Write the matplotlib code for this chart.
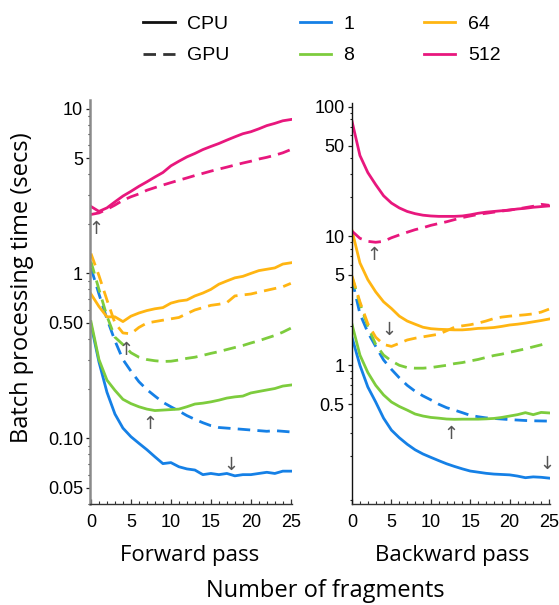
#!/usr/bin/env python3
"""
plot.py

Batch processing time vs number of fragments, forward and backward pass,
CPU (solid) and GPU (dashed) for batch sizes 1, 8, 64, 512.
"""

import matplotlib
matplotlib.use('Agg')
import matplotlib.pyplot as plt
from matplotlib.lines import Line2D
from matplotlib.ticker import FixedLocator, LogLocator, NullFormatter

fragments = list(range(26))
batch_sizes = ['1', '8', '64', '512']
colors = ['#1580e6', '#7dcc3d', '#ffb512', '#e8177d']

# forward pass (secs)
fwd_cpu = {
    '1': [0.49, 0.29, 0.19, 0.14, 0.115, 0.102, 0.093, 0.085, 0.077, 0.070,
          0.071, 0.067, 0.065, 0.064, 0.060, 0.061, 0.060, 0.061, 0.059, 0.060,
          0.060, 0.061, 0.062, 0.061, 0.063, 0.063],
    '8': [0.51, 0.30, 0.225, 0.195, 0.172, 0.162, 0.155, 0.150, 0.147, 0.148,
          0.149, 0.150, 0.155, 0.161, 0.163, 0.166, 0.170, 0.175, 0.178, 0.180,
          0.188, 0.192, 0.196, 0.200, 0.207, 0.210],
    '64': [0.75, 0.63, 0.545, 0.545, 0.51, 0.55, 0.575, 0.595, 0.61, 0.62,
           0.66, 0.68, 0.69, 0.73, 0.76, 0.80, 0.86, 0.90, 0.94, 0.96,
           1.00, 1.04, 1.06, 1.08, 1.14, 1.16],
    '512': [2.55, 2.38, 2.50, 2.72, 2.95, 3.15, 3.38, 3.60, 3.85, 4.10,
            4.50, 4.80, 5.10, 5.35, 5.65, 5.90, 6.15, 6.45, 6.75, 7.05,
            7.25, 7.55, 7.90, 8.15, 8.45, 8.60],
}
fwd_gpu = {
    '1': [1.08, 0.75, 0.53, 0.39, 0.30, 0.255, 0.22, 0.197, 0.18, 0.165,
          0.155, 0.146, 0.137, 0.130, 0.124, 0.119, 0.116, 0.115, 0.114, 0.113,
          0.112, 0.111, 0.110, 0.111, 0.110, 0.109],
    '8': [1.18, 0.80, 0.55, 0.41, 0.37, 0.33, 0.31, 0.30, 0.295, 0.292,
          0.293, 0.298, 0.305, 0.310, 0.318, 0.327, 0.335, 0.345, 0.355, 0.365,
          0.378, 0.390, 0.405, 0.420, 0.440, 0.465],
    '64': [1.32, 0.97, 0.69, 0.50, 0.435, 0.43, 0.47, 0.50, 0.51, 0.52,
           0.53, 0.54, 0.57, 0.60, 0.62, 0.64, 0.65, 0.665, 0.73, 0.74,
           0.75, 0.77, 0.79, 0.81, 0.83, 0.87],
    '512': [2.28, 2.33, 2.45, 2.60, 2.78, 2.92, 3.04, 3.20, 3.32, 3.44,
            3.56, 3.68, 3.80, 3.93, 4.05, 4.18, 4.30, 4.42, 4.55, 4.68,
            4.80, 4.95, 5.07, 5.22, 5.40, 5.65],
}

# backward pass (secs)
bwd_cpu = {
    '1': [1.64, 1.00, 0.68, 0.52, 0.39, 0.315, 0.275, 0.245, 0.222, 0.206,
          0.194, 0.183, 0.173, 0.165, 0.158, 0.152, 0.149, 0.146, 0.144, 0.143,
          0.142, 0.139, 0.135, 0.137, 0.136, 0.134],
    '8': [2.07, 1.20, 0.88, 0.70, 0.59, 0.52, 0.48, 0.45, 0.42, 0.405,
          0.395, 0.390, 0.384, 0.382, 0.383, 0.383, 0.383, 0.385, 0.388, 0.395,
          0.405, 0.415, 0.430, 0.415, 0.432, 0.428],
    '64': [11.0, 6.2, 4.6, 3.7, 3.1, 2.75, 2.40, 2.20, 2.08, 1.97,
           1.92, 1.90, 1.89, 1.88, 1.88, 1.90, 1.93, 1.94, 1.96, 2.00,
           2.05, 2.08, 2.12, 2.17, 2.22, 2.28],
    '512': [77.0, 42.0, 31.0, 25.0, 20.5, 18.0, 16.5, 15.5, 14.9, 14.5,
            14.3, 14.2, 14.2, 14.2, 14.3, 14.6, 15.0, 15.3, 15.5, 15.7,
            15.9, 16.2, 16.4, 16.7, 16.9, 17.1],
}
bwd_gpu = {
    '1': [4.6, 2.5, 1.8, 1.4, 1.1, 0.93, 0.80, 0.70, 0.63, 0.58,
          0.54, 0.50, 0.47, 0.45, 0.43, 0.41, 0.40, 0.392, 0.388, 0.384,
          0.380, 0.377, 0.374, 0.372, 0.371, 0.370],
    '8': [4.8, 3.0, 2.0, 1.45, 1.20, 1.08, 1.00, 0.96, 0.95, 0.95,
          0.96, 0.98, 1.00, 1.03, 1.05, 1.08, 1.11, 1.15, 1.19, 1.22,
          1.26, 1.30, 1.34, 1.39, 1.44, 1.50],
    '64': [4.9, 3.1, 2.1, 1.65, 1.45, 1.40, 1.48, 1.57, 1.62, 1.66,
           1.70, 1.74, 1.85, 1.97, 2.02, 2.06, 2.12, 2.20, 2.30, 2.36,
           2.40, 2.43, 2.46, 2.50, 2.58, 2.72],
    '512': [10.9, 9.6, 9.1, 8.95, 9.1, 9.7, 10.2, 10.7, 11.2, 11.6,
            12.1, 12.5, 12.9, 13.4, 13.9, 14.3, 14.7, 15.0, 15.3, 15.6,
            15.9, 16.2, 16.6, 17.0, 17.6, 17.3],
}

fwd_ticks = [0.05, 0.1, 0.5, 1, 5, 10]
fwd_ticklabels = ['0.05', '0.10', '0.50', '1', '5', '10']
bwd_ticks = [0.5, 1, 5, 10, 50, 100]
bwd_ticklabels = ['0.5', '1', '5', '10', '50', '100']

# (x, y, glyph) markers for the optimum points
fwd_arrows = [(0.6, 1.87, '\u2191'), (4.4, 0.344, '\u2191'),
              (7.4, 0.121, '\u2191'), (17.5, 0.0686, '\u2193')]
bwd_arrows = [(2.8, 7.13, '\u2191'), (4.7, 1.88, '\u2193'),
              (12.5, 0.296, '\u2191'), (24.7, 0.173, '\u2193')]

TICK_FONT = 'Liberation Sans'
LABEL_FONT = 'Open Sans'
DASHES = (4.5, 2.6)


def style_axis(ax, yticks, yticklabels, spine_color, spine_width):
    ax.set_yscale('log')
    for side in ('top', 'right'):
        ax.spines[side].set_visible(False)
    ax.spines['left'].set_color(spine_color)
    ax.spines['left'].set_linewidth(spine_width)
    ax.spines['bottom'].set_color('#333333')
    ax.spines['bottom'].set_linewidth(1.0)

    ax.set_xticks([0, 5, 10, 15, 20, 25])
    ax.set_xticks(range(26), minor=True)
    ax.tick_params(axis='x', which='major', direction='in', length=3.5,
                   width=0.9, color='#333333', pad=7, labelsize=13)
    ax.tick_params(axis='x', which='minor', direction='in', length=2.0,
                   width=0.8, color='#333333')

    ax.yaxis.set_major_locator(FixedLocator(yticks))
    ax.set_yticklabels(yticklabels)
    ax.yaxis.set_minor_locator(LogLocator(base=10, subs=range(2, 10), numticks=20))
    ax.yaxis.set_minor_formatter(NullFormatter())
    ax.tick_params(axis='y', which='major', direction='out', length=3.0,
                   width=0.9, color='#222222', pad=2, labelsize=13)
    ax.tick_params(axis='y', which='minor', direction='out', length=1.5,
                   width=0.8, color='#222222')
    for lab in ax.get_xticklabels() + ax.get_yticklabels():
        lab.set_fontfamily(TICK_FONT)


def draw_panel(ax, cpu, gpu, arrows):
    for bs, col in zip(batch_sizes, colors):
        ax.plot(fragments, cpu[bs], color=col, lw=2.0, solid_joinstyle='round')
        ax.plot(fragments, gpu[bs], color=col, lw=2.0, dashes=DASHES)
    for x, y, glyph in arrows:
        ax.text(x, y, glyph, color='#555555', fontsize=13, ha='center',
                va='center', family='DejaVu Sans')


def main():
    fig = plt.figure(figsize=(5.59, 6.05), dpi=100)

    ax_f = fig.add_axes([90 / 559, 1 - 504 / 605, 202 / 559, 404 / 605])
    draw_panel(ax_f, fwd_cpu, fwd_gpu, fwd_arrows)
    style_axis(ax_f, fwd_ticks, fwd_ticklabels, '#8a8a8a', 1.8)
    ax_f.set_xlim(-0.12, 25.15)
    ax_f.set_ylim(0.0398, 11.3)

    ax_b = fig.add_axes([351.5 / 559, 1 - 504 / 605, 198.7 / 559, 401 / 605])
    draw_panel(ax_b, bwd_cpu, bwd_gpu, bwd_arrows)
    style_axis(ax_b, bwd_ticks, bwd_ticklabels, '#111111', 1.0)
    ax_b.set_xlim(-0.07, 25.15)
    ax_b.set_ylim(0.0845, 107)

    fig.text(22 / 559, 1 - 288 / 605, 'Batch processing time (secs)',
             rotation=90, ha='center', va='center', fontsize=17,
             family=LABEL_FONT)
    fig.text(190 / 559, 1 - 555 / 605, 'Forward pass', ha='center',
             va='center', fontsize=16, family=LABEL_FONT)
    fig.text(452 / 559, 1 - 555 / 605, 'Backward pass', ha='center',
             va='center', fontsize=16, family=LABEL_FONT)
    fig.text(325 / 559, 1 - 591 / 605, 'Number of fragments', ha='center',
             va='center', fontsize=17, family=LABEL_FONT)

    handles = [Line2D([], [], color='#111111', lw=2.0),
               Line2D([], [], color='#333333', lw=2.0, dashes=DASHES)]
    labels = ['CPU', 'GPU']
    for bs, col in zip(batch_sizes, colors):
        handles.append(Line2D([], [], color=col, lw=2.0))
        labels.append(bs)
    fig.legend(handles, labels, ncol=3, loc='center',
               bbox_to_anchor=(322 / 559, 1 - 40 / 605), frameon=False,
               prop={'family': TICK_FONT, 'size': 14},
               handlelength=1.6, handletextpad=0.65, columnspacing=3.6,
               labelspacing=0.7, borderpad=0.2)

    fig.savefig('out.png', dpi=100)
    plt.close(fig)


if __name__ == "__main__":
    main()
